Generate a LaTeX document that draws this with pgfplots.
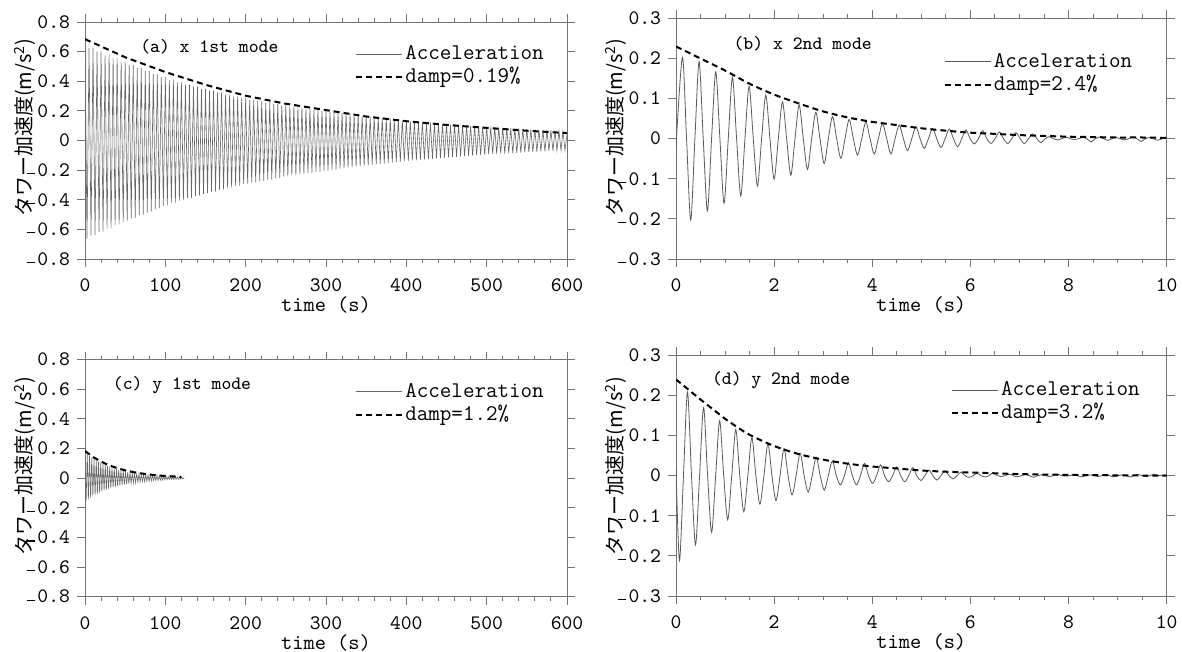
\documentclass[border=0pt]{standalone}
\usepackage{fontspec}
\setmainfont{Liberation Mono}
\newfontfamily\cjk{Noto Sans CJK JP}
\usepackage{pgfplots}
\pgfplotsset{compat=1.18}

\newcommand{\mn}{\raisebox{0.25ex}{\rule{0.42em}{0.06em}}\hspace{0.105em}}
\tikzset{ttl/.style={anchor=west,font=\ttfamily\fontsize{9.4}{11}\selectfont},
  ylab/.style={rotate=90,anchor=center,inner sep=0pt,font=\cjk\fontsize{10}{12}\selectfont}}
\pgfplotsset{
  tower/.style={
    scale only axis,
    axis line style={black!55,line width=0.45pt},
    tick style={black!55,line width=0.45pt},
    tick align=outside,
    major tick length=4pt,
    minor tick length=2pt,
    tick label style={font=\ttfamily\fontsize{10.3}{12}\selectfont,fill=none},
    xticklabel style={yshift=-2.5pt},
    /pgf/number format/assume math mode=true,
    xlabel={time (s)},
    xlabel style={font=\ttfamily\fontsize{10.7}{12}\selectfont,at={(axis description cs:0.5,0)},anchor=center,yshift=-23pt},
    legend style={draw=none,fill=none,font=\ttfamily\fontsize{11.2}{13}\selectfont,inner sep=0pt,row sep=0pt,
      cells={anchor=west},nodes={inner sep=1pt,text height=7.5pt,text depth=2pt}},
    legend image code/.code={\draw[#1] (0pt,0pt) -- (23pt,0pt);},
  },
  acc/.style={black!60,line width=0.3pt,no markers},
  accs/.style={black!65,line width=0.4pt,no markers,smooth},
  env/.style={black,line width=1pt,dash pattern=on 3pt off 2pt,no markers},
  long/.style={xmin=0,xmax=600,ymin=-0.8,ymax=0.8,xtick={0,100,200,300,400,500,600},minor x tick num=4,
    ytick={-0.8,-0.6,-0.4,-0.2,0,0.2,0.4,0.6,0.8},
    yticklabels={\mn0.8,\mn0.6,\mn0.4,\mn0.2,0,0.2,0.4,0.6,0.8},
    width=241pt,height=118.5pt},
  short/.style={xmin=0,xmax=10,ymin=-0.3,ymax=0.3,xtick={0,2,4,6,8,10},minor x tick num=3,
    ytick={-0.3,-0.2,-0.1,0,0.1,0.2,0.3},
    yticklabels={\mn0.3,\mn0.2,\mn0.1,0,0.1,0.2,0.3},
    width=245.3pt,height=120.3pt},
}
\newcommand{\ylabtext}{タワー加速度(m/s\textsuperscript{2})}

\begin{document}
\begin{tikzpicture}
\useasboundingbox (0,0) rectangle (591pt,326pt);
% y axis titles of the four panels
\node[ylab] at (12.5pt,262pt) {\ylabtext};
\node[ylab] at (308pt,262pt) {\ylabtext};
\node[ylab] at (12.5pt,93pt) {\ylabtext};
\node[ylab] at (308pt,93pt) {\ylabtext};

% (a) x 1st mode
\begin{axis}[tower,long,at={(42.5pt,196.5pt)},anchor=south west,
  legend style={at={(0.56,0.915)},anchor=north west}]
\addplot[acc] coordinates {
(0,-0.700)(0,0.650)(2.5,-0.663)(5,0.623)(7.5,-0.643)
(10,0.626)(12.5,-0.639)(15,0.600)(17.5,-0.619)
(20,0.601)(22.5,-0.614)(25,0.577)(27.5,-0.595)
(30,0.579)(32.5,-0.591)(35,0.555)(37.5,-0.573)
(40,0.556)(42.5,-0.567)(45,0.533)(47.5,-0.550)
(50,0.534)(52.5,-0.545)(55,0.512)(57.5,-0.528)
(60,0.511)(62.5,-0.522)(65,0.490)(67.5,-0.506)
(70,0.490)(72.5,-0.500)(75,0.470)(77.5,-0.485)
(80,0.469)(82.5,-0.478)(85,0.449)(87.5,-0.464)
(90,0.447)(92.5,-0.456)(95,0.429)(97.5,-0.443)
(100,0.427)(102.5,-0.436)(105,0.409)(107.5,-0.422)
(110,0.410)(112.5,-0.419)(115,0.393)(117.5,-0.406)
(120,0.395)(122.5,-0.403)(125,0.379)(127.5,-0.391)
(130,0.379)(132.5,-0.387)(135,0.364)(137.5,-0.375)
(140,0.364)(142.5,-0.371)(145,0.349)(147.5,-0.360)
(150,0.349)(152.5,-0.356)(155,0.335)(157.5,-0.346)
(160,0.337)(162.5,-0.344)(165,0.323)(167.5,-0.333)
(170,0.324)(172.5,-0.331)(175,0.311)(177.5,-0.321)
(180,0.310)(182.5,-0.317)(185,0.298)(187.5,-0.307)
(190,0.298)(192.5,-0.304)(195,0.286)(197.5,-0.295)
(200,0.286)(202.5,-0.292)(205,0.274)(207.5,-0.283)
(210,0.276)(212.5,-0.282)(215,0.265)(217.5,-0.274)
(220,0.267)(222.5,-0.272)(225,0.256)(227.5,-0.264)
(230,0.257)(232.5,-0.262)(235,0.246)(237.5,-0.254)
(240,0.247)(242.5,-0.252)(245,0.237)(247.5,-0.245)
(250,0.238)(252.5,-0.243)(255,0.228)(257.5,-0.235)
(260,0.230)(262.5,-0.235)(265,0.220)(267.5,-0.228)
(270,0.222)(272.5,-0.227)(275,0.213)(277.5,-0.220)
(280,0.214)(282.5,-0.219)(285,0.206)(287.5,-0.212)
(290,0.207)(292.5,-0.211)(295,0.198)(297.5,-0.204)
(300,0.199)(302.5,-0.203)(305,0.191)(307.5,-0.197)
(310,0.192)(312.5,-0.196)(315,0.184)(317.5,-0.190)
(320,0.185)(322.5,-0.189)(325,0.178)(327.5,-0.183)
(330,0.178)(332.5,-0.182)(335,0.171)(337.5,-0.177)
(340,0.172)(342.5,-0.175)(345,0.165)(347.5,-0.170)
(350,0.165)(352.5,-0.168)(355,0.158)(357.5,-0.163)
(360,0.159)(362.5,-0.162)(365,0.153)(367.5,-0.157)
(370,0.153)(372.5,-0.156)(375,0.147)(377.5,-0.152)
(380,0.147)(382.5,-0.150)(385,0.141)(387.5,-0.146)
(390,0.142)(392.5,-0.145)(395,0.136)(397.5,-0.140)
(400,0.136)(402.5,-0.139)(405,0.130)(407.5,-0.134)
(410,0.131)(412.5,-0.134)(415,0.126)(417.5,-0.130)
(420,0.126)(422.5,-0.129)(425,0.121)(427.5,-0.125)
(430,0.121)(432.5,-0.124)(435,0.116)(437.5,-0.120)
(440,0.116)(442.5,-0.119)(445,0.112)(447.5,-0.115)
(450,0.112)(452.5,-0.114)(455,0.107)(457.5,-0.110)
(460,0.108)(462.5,-0.110)(465,0.103)(467.5,-0.107)
(470,0.104)(472.5,-0.106)(475,0.100)(477.5,-0.103)
(480,0.100)(482.5,-0.102)(485,0.096)(487.5,-0.099)
(490,0.096)(492.5,-0.098)(495,0.092)(497.5,-0.095)
(500,0.092)(502.5,-0.094)(505,0.088)(507.5,-0.091)
(510,0.089)(512.5,-0.091)(515,0.086)(517.5,-0.088)
(520,0.086)(522.5,-0.088)(525,0.083)(527.5,-0.085)
(530,0.083)(532.5,-0.085)(535,0.080)(537.5,-0.083)
(540,0.081)(542.5,-0.082)(545,0.077)(547.5,-0.080)
(550,0.078)(552.5,-0.079)(555,0.074)(557.5,-0.077)
(560,0.075)(562.5,-0.076)(565,0.072)(567.5,-0.074)
(570,0.072)(572.5,-0.073)(575,0.069)(577.5,-0.071)
(580,0.069)(582.5,-0.070)(585,0.066)(587.5,-0.068)
(590,0.066)(592.5,-0.067)(595,0.063)(597.5,-0.065)
(600,0.040)};
\addlegendentry{Acceleration}
\addplot[env] coordinates {
(0,0.684)(50,0.562)(100,0.462)(150,0.376)(200,0.302)(250,0.248)(300,0.205)
(350,0.162)(400,0.130)(450,0.105)(500,0.085)(550,0.066)(600,0.050)};
\addlegendentry{damp=0.19\%}
\node[ttl] at (axis cs:60,0.63) {(a) x 1st mode};
\end{axis}

% (b) x 2nd mode
\begin{axis}[tower,short,at={(338pt,196.5pt)},anchor=south west,
  legend style={at={(0.545,0.87)},anchor=north west}]
\addplot[accs] coordinates {
(0,-0.02)(0.13,0.203)(0.215,0)(0.30,-0.203)(0.385,0)(0.47,0.192)(0.555,0)(0.64,-0.180)(0.725,0)
(0.81,0.167)(0.895,0)(0.98,-0.161)(1.065,0)(1.15,0.153)(1.235,0)(1.32,-0.143)(1.405,0)
(1.49,0.131)(1.575,0)(1.66,-0.118)(1.745,0)(1.83,0.109)(1.915,0)(2.00,-0.101)(2.085,0)
(2.17,0.092)(2.255,0)(2.34,-0.091)(2.425,0)(2.51,0.084)(2.595,0)(2.68,-0.077)(2.765,0)
(2.85,0.066)(2.935,0)(3.02,-0.062)(3.105,0)(3.19,0.055)(3.275,0)(3.36,-0.049)(3.445,0)
(3.53,0.048)(3.615,0)(3.70,-0.041)(3.785,0)(3.87,0.042)(3.955,0)(4.04,-0.038)(4.125,0)
(4.21,0.038)(4.295,0)(4.38,-0.038)(4.465,0)(4.55,0.034)(4.635,0)(4.72,-0.030)(4.805,0)
(4.89,0.030)(4.975,0)(5.06,-0.024)(5.145,0)(5.23,0.026)(5.315,0)(5.40,-0.022)(5.485,0)
(5.57,0.024)(5.655,0)(5.74,-0.020)(5.825,0)(5.91,0.022)(5.995,0)(6.08,-0.013)(6.165,0)
(6.25,0.020)(6.335,0)(6.42,-0.012)(6.505,0)(6.59,0.017)(6.675,0)(6.76,-0.012)(6.845,0)
(6.93,0.015)(7.015,0)(7.10,-0.012)(7.185,0)(7.27,0.012)(7.355,0)(7.44,-0.010)(7.525,0)
(7.61,0.005)(7.695,0)(7.78,-0.003)(7.865,0)(7.95,0.004)(8.035,0)(8.12,-0.002)(8.205,0)
(8.29,0.003)(8.375,0)(8.46,-0.008)(8.545,0)(8.63,0.004)(8.715,0)(8.80,-0.004)(8.885,0)
(8.97,0.003)(9.055,0)(9.14,-0.003)(9.225,0)(9.31,0.004)(9.395,0)(9.48,-0.007)(9.565,0)
(9.65,0.003)(9.735,0)(9.82,-0.004)(9.905,0)(10,0.002)};
\addlegendentry{Acceleration}
\addplot[env,smooth] coordinates {
(0,0.230)(0.5,0.200)(1,0.170)(1.5,0.137)(2,0.110)(2.5,0.088)(3,0.068)(3.5,0.053)(4,0.042)
(4.5,0.034)(5,0.026)(5.5,0.020)(6,0.015)(6.5,0.012)(7,0.009)(7.5,0.007)(8,0.005)(8.5,0.004)
(9,0.003)(9.5,0.003)(10,0.002)};
\addlegendentry{damp=2.4\%}
\node[ttl] at (axis cs:1.03,0.237) {(b) x 2nd mode};
\end{axis}

% (c) y 1st mode
\begin{axis}[tower,long,at={(42.5pt,27.65pt)},anchor=south west,
  legend style={at={(0.56,0.915)},anchor=north west}]
\addplot[acc] coordinates {
(0,0.175)(1.4,-0.154)(2.8,0.162)(4.2,-0.143)(5.6,0.150)(7.0,-0.132)(8.4,0.139)(9.8,-0.123)
(11.2,0.129)(12.6,-0.114)(14.0,0.120)(15.4,-0.106)(16.8,0.111)(18.2,-0.098)(19.6,0.103)(21.0,-0.091)
(22.4,0.096)(23.8,-0.084)(25.2,0.089)(26.6,-0.078)(28.0,0.082)(29.4,-0.072)(30.8,0.076)(32.2,-0.067)
(33.6,0.071)(35.0,-0.062)(36.4,0.065)(37.8,-0.058)(39.2,0.061)(40.6,-0.053)(42.0,0.056)(43.4,-0.050)
(44.8,0.052)(46.2,-0.046)(47.6,0.048)(49.0,-0.043)(50.4,0.045)(51.8,-0.040)(53.2,0.042)(54.6,-0.037)
(56.0,0.039)(57.4,-0.034)(58.8,0.036)(60.2,-0.032)(61.6,0.033)(63.0,-0.029)(64.4,0.031)(65.8,-0.027)
(67.2,0.029)(68.6,-0.025)(70.0,0.026)(71.4,-0.023)(72.8,0.025)(74.2,-0.022)(75.6,0.023)(77.0,-0.020)
(78.4,0.021)(79.8,-0.019)(81.2,0.020)(82.6,-0.017)(84.0,0.018)(85.4,-0.016)(86.8,0.017)(88.2,-0.015)
(89.6,0.016)(91.0,-0.014)(92.4,0.015)(93.8,-0.013)(95.2,0.013)(96.6,-0.012)(98.0,0.012)(99.4,-0.011)
(100.8,0.012)(102.2,-0.010)(103.6,0.011)(105.0,-0.009)(106.4,0.010)(107.8,-0.009)(109.2,0.009)(110.6,-0.008)
(112.0,0.009)(113.4,-0.008)(114.8,0.008)(116.2,-0.007)(117.6,0.007)(119.0,-0.006)(120.4,0.007)(121.8,-0.005)
(123.5,0.000)};
\addlegendentry{Acceleration}
\addplot[env] coordinates {
(0,0.184)(10,0.143)(20,0.112)(30,0.087)(40,0.068)(50,0.053)(60,0.041)(70,0.032)
(80,0.025)(90,0.019)(100,0.015)(110,0.012)(120,0.009)};
\addlegendentry{damp=1.2\%}
\node[ttl] at (axis cs:26,0.63) {(c) y 1st mode};
\end{axis}

% (d) y 2nd mode
\begin{axis}[tower,short,at={(338pt,28pt)},anchor=south west,
  legend style={at={(0.56,0.905)},anchor=north west}]
\addplot[accs] coordinates {
(0,0.02)(0.070,-0.212)(0.152,0)(0.234,0.209)(0.316,0)(0.398,-0.173)(0.480,0)(0.562,0.170)(0.644,0)
(0.726,-0.141)(0.808,0)(0.890,0.137)(0.972,0)(1.054,-0.110)(1.136,0)(1.218,0.115)(1.300,0)
(1.382,-0.090)(1.464,0)(1.546,0.095)(1.628,0)(1.710,-0.071)(1.792,0)(1.874,0.080)(1.956,0)
(2.038,-0.062)(2.120,0)(2.202,0.068)(2.284,0)(2.366,-0.048)(2.448,0)(2.530,0.056)(2.612,0)
(2.694,-0.041)(2.776,0)(2.858,0.046)(2.940,0)(3.022,-0.036)(3.104,0)(3.186,0.037)(3.268,0)
(3.350,-0.023)(3.432,0)(3.514,0.032)(3.596,0)(3.678,-0.023)(3.760,0)(3.842,0.031)(3.924,0)
(4.006,-0.019)(4.088,0)(4.170,0.027)(4.252,0)(4.334,-0.015)(4.416,0)(4.498,0.022)(4.580,0)
(4.662,-0.015)(4.744,0)(4.826,0.020)(4.908,0)(4.990,-0.012)(5.072,0)(5.154,0.014)(5.236,0)
(5.318,-0.011)(5.400,0)(5.482,0.012)(5.564,0)(5.646,-0.008)(5.728,0)(5.810,0.009)(5.892,0)
(5.974,-0.004)(6.056,0)(6.138,0.006)(6.220,0)(6.302,-0.003)(6.384,0)(6.466,0.008)(6.548,0)
(6.630,-0.002)(6.712,0)(6.794,0.004)(6.876,0)(6.958,-0.003)(7.040,0)(7.122,0.003)(7.204,0)
(7.286,-0.004)(7.368,0)(7.450,0.002)(7.532,0)(7.614,-0.002)(7.696,0)(7.778,0.004)(7.860,0)
(7.942,-0.001)(8.024,0)(8.106,0.003)(8.188,0)(8.270,-0.003)(8.352,0)(8.434,0.002)(8.516,0)
(8.598,-0.002)(8.680,0)(8.762,0.003)(8.844,0)(8.926,-0.003)(9.008,0)(9.090,0.002)(9.172,0)
(9.254,-0.003)(9.336,0)(9.418,0.003)(9.500,0)(9.582,-0.002)(9.664,0)(9.746,0.004)(9.828,0)
(9.910,0.001)(10,0.002)};
\addlegendentry{Acceleration}
\addplot[env,smooth] coordinates {
(0,0.240)(0.25,0.215)(0.5,0.190)(0.75,0.166)(1,0.142)(1.25,0.121)(1.5,0.102)(2,0.074)
(2.5,0.054)(3,0.040)(3.5,0.030)(4,0.023)(4.5,0.018)(5,0.013)(5.5,0.010)(6,0.008)
(6.5,0.006)(7,0.004)(8,0.002)(9,0.001)(10,0.000)};
\addlegendentry{damp=3.2\%}
\node[ttl] at (axis cs:0.59,0.2375) {(d) y 2nd mode};
\end{axis}
\end{tikzpicture}
\end{document}
